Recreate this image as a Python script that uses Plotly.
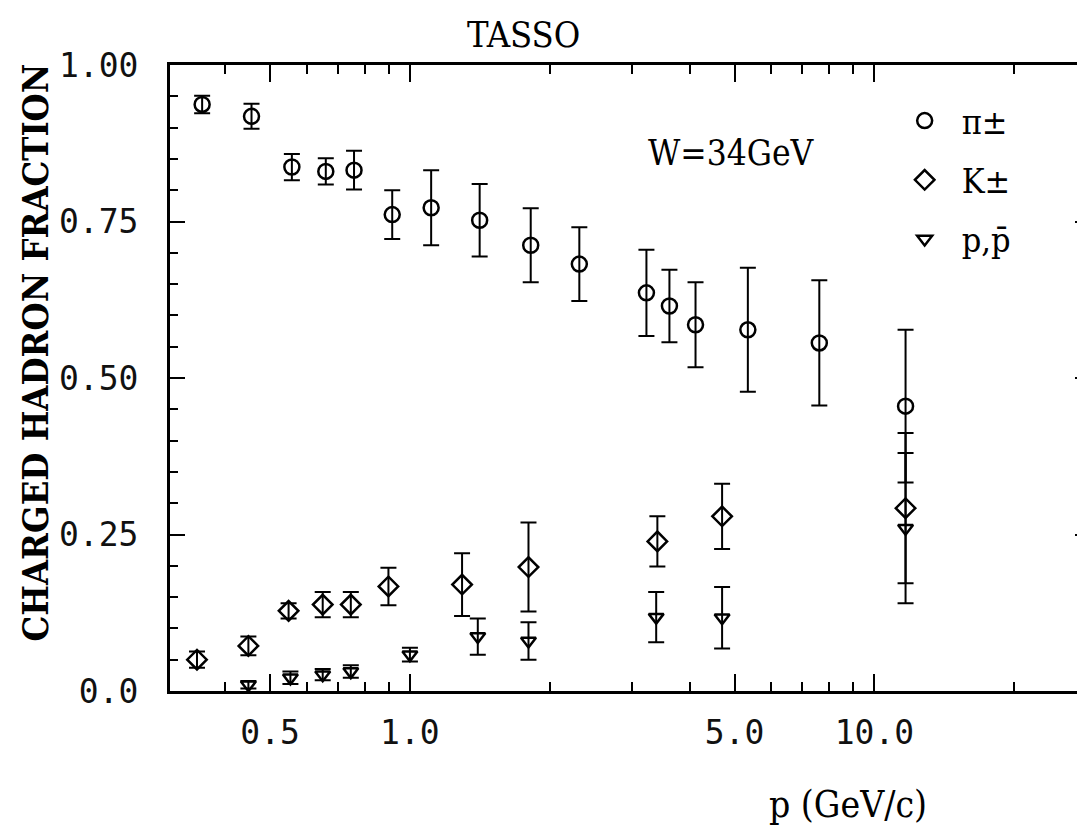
import math
import plotly.graph_objects as go

# ---- data (TASSO, W = 34 GeV) ----
p_pion = [0.357, 0.456, 0.557, 0.659, 0.758, 0.916, 1.111, 1.413, 1.82, 2.316, 3.23, 3.62, 4.12, 5.34, 7.61, 11.67]
frac_pion = [0.937, 0.918, 0.837, 0.830, 0.832, 0.761, 0.772, 0.752, 0.712, 0.682, 0.636, 0.615, 0.585, 0.577, 0.556, 0.455]
err_pion = [0.014, 0.020, 0.021, 0.021, 0.031, 0.039, 0.060, 0.058, 0.059, 0.059, 0.069, 0.058, 0.068, 0.099, 0.100, 0.122]

p_kaon = [0.348, 0.449, 0.548, 0.649, 0.746, 0.899, 1.295, 1.80, 3.41, 4.70, 11.67]
frac_kaon = [0.050, 0.072, 0.128, 0.138, 0.138, 0.167, 0.170, 0.198, 0.239, 0.279, 0.292]
err_kaon = [0.013, 0.015, 0.012, 0.020, 0.020, 0.030, 0.050, 0.071, 0.040, 0.052, 0.120]

p_proton = [0.449, 0.553, 0.649, 0.746, 1.0, 1.40, 1.80, 3.39, 4.70, 11.67]
frac_proton = [0.010, 0.021, 0.026, 0.031, 0.058, 0.087, 0.080, 0.118, 0.117, 0.260]
err_proton = [0.006, 0.010, 0.009, 0.010, 0.011, 0.029, 0.030, 0.040, 0.049, 0.120]

series_names = ["\u03c0\u00b1", "K\u00b1", "p,p\u0304"]

x_tick_vals = [0.5, 1.0, 5.0, 10.0]
x_tick_text = ["0.5", "1.0", "5.0", "10.0"]
x_minor_vals = [0.4, 0.6, 0.7, 0.8, 0.9, 2, 3, 4, 6, 7, 8, 9, 20]
y_tick_vals = [0.0, 0.25, 0.5, 0.75, 1.0]
y_tick_text = ["0.0", "0.25", "0.50", "0.75", "1.00"]

# ---- layout geometry (pixels) ----
W, H = 1085, 827
L, R, T, B = 162, 0, 57, 144
PW, PH = W - L - R, H - T - B


def px(x):
    return (x - L) / PW


def py(y):
    return (H - B - y) / PH


TEXT_FONT = "DejaVu Serif Condensed, DejaVu Serif, serif"
TICK_FONT = "DejaVu Sans Mono, monospace"

fig = go.Figure()


def add_series(x, y, e, name, symbol, size):
    fig.add_trace(go.Scatter(
        x=x, y=y, mode="markers", name=name, legendgroup=name,
        marker=dict(symbol=symbol, size=size, color="black",
                    line=dict(color="black", width=2.5)),
        error_y=dict(type="data", array=e, color="black", thickness=2, width=8),
    ))


add_series(p_pion, frac_pion, err_pion, series_names[0], "circle-open", 15)
add_series(p_kaon, frac_kaon, err_kaon, series_names[1], "diamond-open", 15)
add_series(p_proton, frac_proton, err_proton, series_names[2], "triangle-down-open", 13)

fig.update_layout(
    width=W, height=H,
    margin=dict(l=L, r=R, t=T, b=B, pad=0),
    paper_bgcolor="white", plot_bgcolor="white",
    font=dict(family=TEXT_FONT, color="black"),
    showlegend=True,
    legend=dict(x=px(882), y=py(84), xanchor="left", yanchor="top",
                font=dict(family=TEXT_FONT, size=34, color="black"),
                itemwidth=64,
                bgcolor="rgba(0,0,0,0)", traceorder="grouped", tracegroupgap=12),
    xaxis=dict(
        type="log", range=[-(402.7 - L) / 466.0, (W - R - 402.7) / 466.0],
        tickmode="array", tickvals=x_tick_vals, ticktext=x_tick_text,
        ticks="inside", ticklen=17, tickwidth=2, tickcolor="black",
        showline=True, linewidth=3, linecolor="black", mirror="allticks",
        showgrid=False, zeroline=False,
        tickfont=dict(family=TICK_FONT, size=33, color="#111"),
        ticklabelstandoff=10,
        minor=dict(tickmode="array", tickvals=x_minor_vals, ticks="inside",
                   ticklen=9, tickwidth=2, tickcolor="black", showgrid=False),
    ),
    yaxis=dict(
        range=[0, 1],
        tickmode="array", tickvals=y_tick_vals, ticktext=y_tick_text,
        ticks="inside", ticklen=15, tickwidth=2, tickcolor="black",
        showline=True, linewidth=3, linecolor="black", mirror="allticks",
        showgrid=False, zeroline=False,
        tickfont=dict(family=TICK_FONT, size=33, color="#111"),
        ticklabelstandoff=22,
        minor=dict(dtick=0.05, ticks="inside", ticklen=8, tickwidth=2,
                   tickcolor="black", showgrid=False),
    ),
    annotations=[
        dict(text="TASSO", x=px(517), y=py(27), xref="paper", yref="paper",
             showarrow=False, xanchor="center", yanchor="middle",
             font=dict(family=TEXT_FONT, size=36)),
        dict(text="W=34GeV", x=px(725), y=py(145), xref="paper", yref="paper",
             showarrow=False, xanchor="center", yanchor="middle",
             font=dict(family=TEXT_FONT, size=35)),
        dict(text="p (GeV/c)", x=px(842), y=py(796), xref="paper", yref="paper",
             showarrow=False, xanchor="center", yanchor="middle",
             font=dict(family=TEXT_FONT, size=37)),
        dict(text="<b>CHARGED HADRON FRACTION</b>", x=px(27), y=py(344),
             xref="paper", yref="paper", showarrow=False, textangle=-90,
             xanchor="center", yanchor="middle",
             font=dict(family=TEXT_FONT, size=36)),
    ],
)

fig.write_html("out.html")
